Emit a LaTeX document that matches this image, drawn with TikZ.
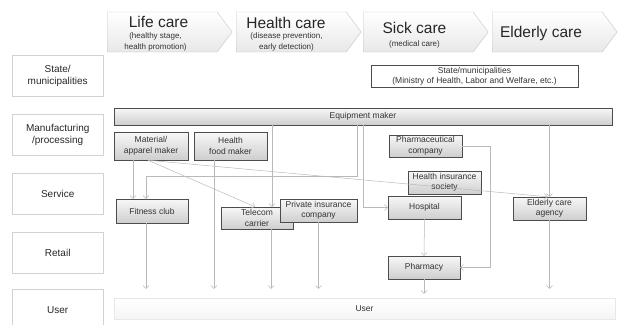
\documentclass[tikz,border=0pt]{standalone}
\usepackage{fontspec}
\setmainfont{Liberation Sans}
\usetikzlibrary{shapes.symbols,arrows.meta}

\begin{document}
\begin{tikzpicture}[%
      x=1pt, y=-1pt,
      phase/.style={signal, signal to=east, signal from=nowhere,
        signal pointer angle=106, draw=gray!45, top color=white,
        bottom color=gray!18, minimum width=125pt, minimum height=40pt,
        inner sep=0pt, anchor=west},
      title/.style={inner sep=0pt, text=black!85, font=\fontsize{15.5}{17}\selectfont},
      subtitle/.style={inner sep=0pt, align=center, text=black!80,
        font=\fontsize{8}{10.5}\selectfont},
      rowlabel/.style={draw=gray!35, minimum width=91pt, minimum height=41pt,
        align=center, font=\fontsize{10}{12}\selectfont, text=black!85,
        anchor=north west},
      actor/.style={draw=gray!60!black, top color=gray!6, bottom color=gray!38,
        align=center, font=\fontsize{8.5}{10.5}\selectfont, text=black!80,
        inner sep=1pt},
      flow/.style={draw=gray!55, line width=0.5pt,
        -{Straight Barb[length=3pt,width=6pt]}},
      touser/.style={flow, shorten >=9pt},
      ]
      \clip (0,0) rectangle (620,324);

      % rows
      \node[rowlabel] (rstate) at (12,55) {State/\\municipalities};
      \node[rowlabel] (rmanu) at (12,114) {Manufacturing\\/processing};
      \node[rowlabel] (rserv) at (12,173) {Service};
      \node[rowlabel] (rretail) at (12,232) {Retail};
      \node[rowlabel] (ruser) at (12,289) {User};

      % phases
      \node[phase] (life) at (107,32) {};
      \node[phase] (health) at (236,32) {};
      \node[phase] (sick) at (363,32) {};
      \node[phase] (elderly) at (492,32) {};

      \node[title] (lifet) at (158.5,22) {Life care};
      \node[subtitle] (lifes) at (155.5,42) {(healthy stage,\\health promotion)};
      \node[title] (healtht) at (286,22.5) {Health care};
      \node[subtitle] (healths) at (286.5,42) {(disease prevention,\\early detection)};
      \node[title] (sickt) at (414.5,28) {Sick care};
      \node[subtitle] (sicks) at (414.5,44) {(medical care)};
      \node[title] (elderlyt) at (541,33) {Elderly care};

      \node[draw=gray!60!black, fill=white, minimum width=207pt, minimum height=22pt,
        align=center, inner sep=1pt, text=black!80,
        font=\fontsize{8.5}{10}\selectfont] (gov) at (474.5,76)
        {State/municipalities\\(Ministry of Health, Labor and Welfare, etc.)};

      % players
      \node[actor, minimum width=498pt, minimum height=17pt] (equip) at (363,116.5) {Equipment maker};
      \node[actor, minimum width=74pt, minimum height=28pt] (mat) at (151,146) {Material/\\apparel maker};
      \node[actor, minimum width=73pt, minimum height=28pt] (food) at (230.5,146) {Health\\food maker};
      \node[actor, minimum width=73pt, minimum height=22pt] (pharma) at (425.5,146) {Pharmaceutical\\company};
      \node[actor, minimum width=73pt, minimum height=23pt] (hins) at (444.5,182.5) {Health insurance\\society};
      \node[actor, minimum width=72pt, minimum height=24pt] (fit) at (152,211) {Fitness club};
      \node[actor, minimum width=72pt, minimum height=22pt] (tel) at (257,218) {Telecom\\carrier};
      \node[actor, minimum width=77pt, minimum height=23pt] (ins) at (318.5,210.5) {Private insurance\\company};
      \node[actor, minimum width=73pt, minimum height=23pt] (hosp) at (424.5,207.5) {Hospital};
      \node[actor, minimum width=73pt, minimum height=23pt] (eld) at (549.5,208.5) {Elderly care\\agency};
      \node[actor, minimum width=72pt, minimum height=23pt] (pharmacy) at (424,267.5) {Pharmacy};

      \node[draw=gray!18, top color=white, bottom color=gray!8, minimum width=501pt,
        minimum height=21pt, text=black!80, font=\fontsize{8.5}{10}\selectfont]
        (user) at (364.5,308.5) {User};

      % flows
      \draw[flow] ([xshift=-18pt]mat.south) -- ([xshift=-18pt]mat.south |- fit.north);
      \draw[flow] ([xshift=-3pt]mat.south) -- ([xshift=-2pt]tel.north);
      \draw[flow] ([xshift=-3pt]mat.south) -- ([xshift=-2pt]eld.north);
      \draw[flow] ([xshift=15pt]tel.north |- equip.south) -- ([xshift=15pt]tel.north);
      \draw[flow] ([xshift=-6pt]equip.south) |- ([xshift=-6pt,yshift=23pt]fit.north)
        -- ([xshift=-6pt]fit.north);
      \draw[flow] (equip.south) |- (hosp.west);
      \draw[flow] (eld.north |- equip.south) -- (eld.north);
      \draw[flow] (pharma.east) -- ([xshift=28pt]pharma.east) |- (pharmacy.east);
      \draw[flow] (hosp.south) -- (pharmacy.north);

      \draw[touser] ([xshift=-16.5pt]food.south) -- ([xshift=-16.5pt]food.south |- user.north);
      \draw[touser] ([xshift=-6pt]fit.south) -- ([xshift=-6pt]fit.south |- user.north);
      \draw[touser] ([xshift=14pt]tel.south) -- ([xshift=14pt]tel.south |- user.north);
      \draw[touser] (ins.south) -- (ins.south |- user.north);
      \draw[touser] (eld.south) -- (eld.south |- user.north);
      \draw[flow, shorten >=4pt] (pharmacy.south) -- (pharmacy.south |- user.north);
\end{tikzpicture}
\end{document}
